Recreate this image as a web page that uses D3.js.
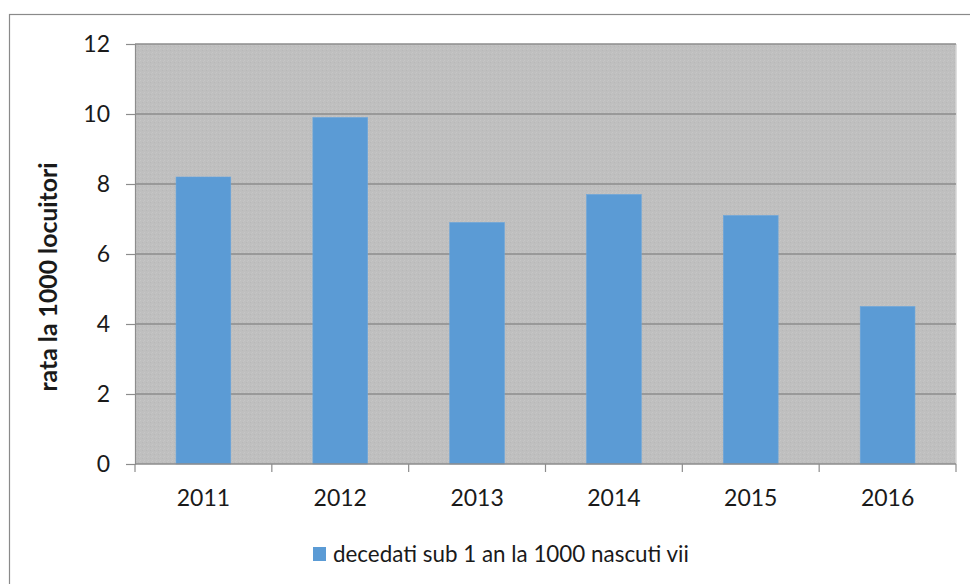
<!DOCTYPE html>
<html><head><meta charset="utf-8">
<script src="https://cdn.jsdelivr.net/npm/d3@7"></script>
<style>body{margin:0;background:#fff}svg{display:block}</style>
</head><body>
<svg id="c" width="970" height="584"></svg>
<script>
const categories = ["2011","2012","2013","2014","2015","2016"];
const values = [8.2, 9.9, 6.9, 7.7, 7.1, 4.5];
const yTicks = [0,2,4,6,8,10,12];
const seriesName = "decedati sub 1 an la 1000 nascuti vii";
const yTitle = "rata la 1000 locuitori";

const svg = d3.select("#c");
const font = "Lato, 'Open Sans', Calibri, sans-serif";
const m = {left:135, top:44, right:956, bottom:464};

function fitWidth(sel, target){
  const n = sel.node();
  const fs = parseFloat(sel.attr("font-size"));
  const w = n.getComputedTextLength();
  if (w > 0) sel.attr("font-size", (fs*target/w).toFixed(2));
}

// outer border
svg.append("rect").attr("x",9.5).attr("y",14.5).attr("width",970).attr("height",600)
  .attr("fill","#fff").attr("stroke","#8a8a8a").attr("stroke-width",1.2);

// texture pattern
const defs = svg.append("defs");
const pat = defs.append("pattern").attr("id","tex").attr("width",4).attr("height",4).attr("patternUnits","userSpaceOnUse");
pat.append("rect").attr("width",4).attr("height",4).attr("fill","#bfbfbf");
pat.append("rect").attr("x",0).attr("y",0).attr("width",1).attr("height",1).attr("fill","#c6c6c6");
pat.append("rect").attr("x",2).attr("y",2).attr("width",1).attr("height",1).attr("fill","#b8b8b8");
pat.append("rect").attr("x",3).attr("y",1).attr("width",1).attr("height",1).attr("fill","#c4c4c4");

const x = d3.scaleBand().domain(categories).range([m.left,m.right]).paddingInner(0).paddingOuter(0);
const y = d3.scaleLinear().domain([0,12]).range([m.bottom,m.top]);

svg.append("rect").attr("x",m.left).attr("y",m.top).attr("width",m.right-m.left).attr("height",m.bottom-m.top)
  .attr("fill","url(#tex)");
svg.append("line").attr("x1",m.right).attr("x2",m.right).attr("y1",m.top).attr("y2",m.bottom)
  .attr("stroke","#d4d4d4").attr("stroke-width",1.5);

// y axis with gridlines
const yAxis = svg.append("g").attr("transform",`translate(${m.left},0)`)
  .call(d3.axisLeft(y).tickValues(yTicks).tickSize(9).tickPadding(16).tickFormat(d3.format("d")));
yAxis.select(".domain").attr("stroke","#8c8c8c").attr("stroke-width",1.2);
yAxis.selectAll(".tick line").attr("stroke","#8c8c8c").attr("stroke-width",1.2);
yAxis.selectAll(".tick text").attr("font-family",font).attr("font-size",23).attr("fill","#1a1a1a");

svg.append("g").selectAll("line").data(yTicks.filter(d=>d>0)).join("line")
  .attr("x1",m.left).attr("x2",m.right).attr("y1",d=>y(d)).attr("y2",d=>y(d))
  .attr("stroke","#8c8c8c").attr("stroke-width",1.3);

// bars
const bw = x.bandwidth()*0.4;
svg.append("g").selectAll("rect").data(values).join("rect")
  .attr("x",(d,i)=>x(categories[i])+x.bandwidth()/2-bw/2)
  .attr("y",d=>y(d)).attr("width",bw).attr("height",d=>y(0)-y(d))
  .attr("fill","#5b9bd5").attr("stroke","#6aa6dc").attr("stroke-width",0.6);

// x axis
svg.append("line").attr("x1",m.left).attr("x2",m.right).attr("y1",m.bottom).attr("y2",m.bottom)
  .attr("stroke","#8c8c8c").attr("stroke-width",1.3);
const bounds = categories.map(c=>x(c)).concat([m.right]);
svg.append("g").selectAll("line").data(bounds).join("line")
  .attr("x1",d=>d).attr("x2",d=>d).attr("y1",m.bottom).attr("y2",m.bottom+8)
  .attr("stroke","#8c8c8c").attr("stroke-width",1.2);
svg.append("g").selectAll("text").data(categories).join("text")
  .attr("x",d=>x(d)+x.bandwidth()/2).attr("y",m.bottom+42)
  .attr("text-anchor","middle").attr("font-family",font).attr("font-size",23).attr("fill","#1a1a1a")
  .text(d=>d);

// y title
const yt = svg.append("text").attr("transform","translate(57,277) rotate(-90)")
  .attr("text-anchor","middle").attr("font-family",font).attr("font-weight","bold")
  .attr("font-size",20).attr("fill","#1a1a1a").text(yTitle);
fitWidth(yt, 229);

// legend
svg.append("rect").attr("x",313).attr("y",547).attr("width",13).attr("height",14).attr("fill","#5b9bd5");
const lt = svg.append("text").attr("x",333).attr("y",562).attr("font-family",font).attr("font-size",20)
  .attr("fill","#1a1a1a").text(seriesName);
fitWidth(lt, 356);
</script>
</body></html>
